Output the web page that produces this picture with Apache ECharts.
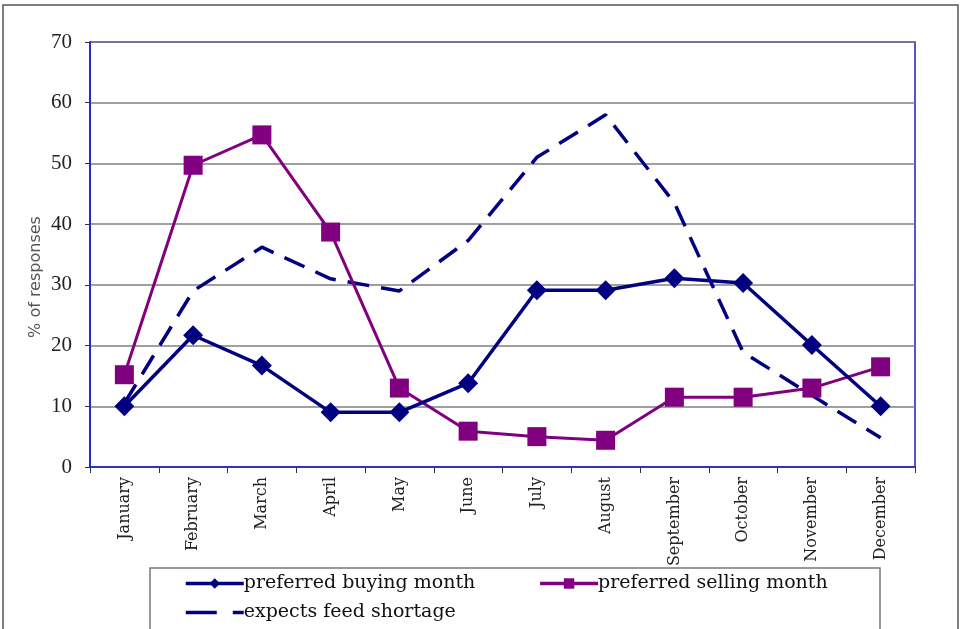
<!DOCTYPE html>
<html>
<head>
<meta charset="utf-8">
<script src="https://cdn.jsdelivr.net/npm/echarts@6/dist/echarts.min.js"></script>
<style>
html,body{margin:0;padding:0;background:#fff;}
#c{width:963px;height:629px;}
</style>
</head>
<body>
<div id="c"></div>
<script>
var months = ['January','February','March','April','May','June','July','August','September','October','November','December'];
var buying = [10, 21.7, 16.7, 9, 9, 13.8, 29.1, 29.1, 31.1, 30.3, 20.1, 10];
var selling = [15.2, 49.7, 54.7, 38.7, 13, 5.9, 5, 4.4, 11.5, 11.5, 13, 16.5];
var shortage = [10.5, 29, 36.2, 31, 29, 37.3, 51, 58, 43.5, 18.9, 11.8, 4.8];
var yTicks = [0, 10, 20, 30, 40, 50, 60, 70];
var yTitle = '% of responses';

var serif = '"DejaVu Serif", "Liberation Serif", serif';
var serif2 = '"Liberation Serif", "DejaVu Serif", serif';
var chart = echarts.init(document.getElementById('c'));
chart.setOption({
  animation: false,
  backgroundColor: '#fff',
  graphic: [
    {type: 'rect', shape: {x: 3, y: 5, width: 955, height: 640}, style: {fill: 'none', stroke: '#555', lineWidth: 1.5}, z: -10},
    {type: 'rect', shape: {x: 150, y: 568, width: 730, height: 80}, style: {fill: '#fff', stroke: '#777', lineWidth: 1.5}, z: 10},
    {type: 'text', x: 36, y: 277, rotation: Math.PI / 2,
     style: {text: yTitle, fontFamily: '"DejaVu Sans", sans-serif', fontSize: 16, fill: '#555', align: 'center', verticalAlign: 'middle'}}
  ],
  grid: {left: 90, right: 48, top: 42, bottom: 162, show: true, borderColor: '#1a1ad0', borderWidth: 1.5, backgroundColor: 'transparent'},
  legend: [
    {data: [
        {name: 'preferred buying month', lineStyle: {width: 3.5}},
        {name: 'preferred selling month', lineStyle: {width: 3.5}}
      ], left: 184, top: 574, padding: 0, itemWidth: 58, itemHeight: 13, itemGap: 63, z: 20,
     textStyle: {fontFamily: serif, fontSize: 19, color: '#111', padding: [0,0,0,-5]}},
    {data: [
        {name: 'expects feed shortage', itemStyle: {opacity: 0}, lineStyle: {width: 3.5, type: [31, 16]}}
      ], left: 184, top: 603, padding: 0, itemWidth: 58, itemHeight: 13, z: 20,
     textStyle: {fontFamily: serif, fontSize: 19, color: '#111', padding: [0,0,0,-5]}}
  ],
  xAxis: {
    type: 'category', data: months, boundaryGap: true,
    axisLine: {lineStyle: {color: '#1a1ad0', width: 1.5}},
    axisTick: {show: true, length: 6, lineStyle: {color: '#333'}},
    axisLabel: {rotate: 90, fontFamily: serif, fontSize: 16, color: '#222', margin: 10, interval: 0}
  },
  yAxis: {
    type: 'value', min: 0, max: 70, interval: 10,
    axisLine: {show: true, lineStyle: {color: '#1a1ad0', width: 1.5}},
    axisTick: {show: true, length: 5, lineStyle: {color: '#333'}},
    axisLabel: {fontFamily: serif2, fontSize: 21, color: '#222', margin: 18,
      formatter: function(v){ return yTicks.indexOf(v) >= 0 ? String(v) : ''; }},
    splitLine: {show: true, lineStyle: {color: '#808080', width: 1.5}}
  },
  series: [
    {name: 'preferred buying month', type: 'line', data: buying, symbol: 'diamond', symbolSize: 20,
     lineStyle: {color: '#000080', width: 3.5}, itemStyle: {color: '#000080'}, z: 5},
    {name: 'preferred selling month', type: 'line', data: selling, symbol: 'rect', symbolSize: 19,
     lineStyle: {color: '#800080', width: 3}, itemStyle: {color: '#800080'}, z: 4},
    {name: 'expects feed shortage', type: 'line', data: shortage, symbol: 'none', showSymbol: false,
     lineStyle: {color: '#000080', width: 3.5, type: [22, 12]}, itemStyle: {color: '#000080'}, z: 3}
  ]
});
</script>
</body>
</html>
